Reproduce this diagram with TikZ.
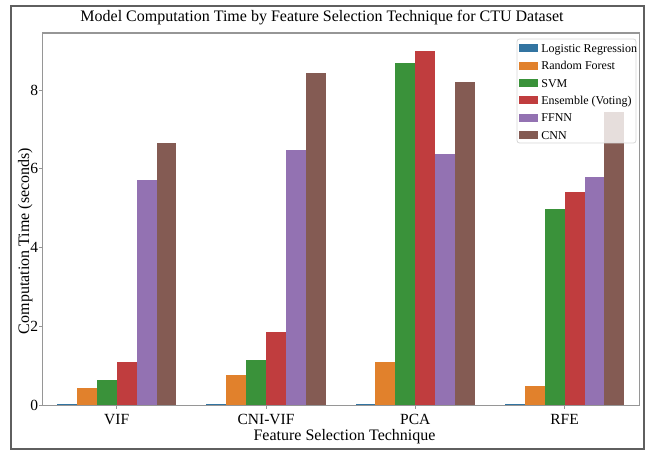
\documentclass[tikz,border=0pt]{standalone}
\usepackage{fontspec}
\setmainfont{Liberation Serif}
\usetikzlibrary{positioning}
\definecolor{CtuBlue}{HTML}{3274A1}
\definecolor{CtuOrange}{HTML}{E1812C}
\definecolor{CtuGreen}{HTML}{3A923A}
\definecolor{CtuRed}{HTML}{C03D3E}
\definecolor{CtuPurple}{HTML}{9372B2}
\definecolor{CtuBrown}{HTML}{845B53}
\definecolor{CtuSpine}{RGB}{150,150,150}
\definecolor{CtuFrame}{RGB}{95,95,95}
\definecolor{CtuLegEdge}{RGB}{215,215,215}
\tikzset{
  ctu/frame/.style={draw=CtuFrame, line width=1.2pt},
  ctu/spine/.style={draw=CtuSpine, line width=1.1pt},
  ctu/tickmark/.style={draw=CtuSpine, line width=0.9pt},
  ctu/lr/.style={fill=CtuBlue},
  ctu/rf/.style={fill=CtuOrange},
  ctu/svm/.style={fill=CtuGreen},
  ctu/ens/.style={fill=CtuRed},
  ctu/ffnn/.style={fill=CtuPurple},
  ctu/cnn/.style={fill=CtuBrown},
  ctu/title/.style={font=\fontsize{16}{19}\selectfont, inner sep=0pt, anchor=base},
  ctu/axislabel/.style={font=\fontsize{16}{19}\selectfont, inner sep=0pt, anchor=base},
  ctu/ticklabel/.style={font=\fontsize{15.5}{18}\selectfont, inner sep=0pt},
  ctu/legbox/.style={draw=CtuLegEdge, line width=0.8pt, rounded corners=2.5pt, fill=white, fill opacity=0.8},
  ctu/patch/.style={rectangle, minimum width=19pt, minimum height=8pt, inner sep=0pt},
  ctu/legtext/.style={font=\fontsize{12}{14}\selectfont, inner sep=0pt}
}
\begin{document}
\begin{tikzpicture}[x=1pt,y=1pt]
  \useasboundingbox (0,0) rectangle (647,450);
  \draw[ctu/frame] (11,1) rectangle (644,444);
  \node[ctu/title] (title) at (322,428) {Model Computation Time by Feature Selection Technique for CTU Dataset};
  \node[ctu/axislabel] (xlabel) at (344.5,10) {Feature Selection Technique};
  \node[ctu/axislabel, rotate=90] (ylabel) at (29,209) {Computation Time (seconds)};

  \begin{scope}[shift={(116.7,44.3)}, x=149.3pt, y=39.46pt]
    % VIF
    \fill[ctu/lr]   (-0.4000,0) rectangle ++(0.1333,0.04);
    \fill[ctu/rf]   (-0.2667,0) rectangle ++(0.1333,0.44);
    \fill[ctu/svm]  (-0.1333,0) rectangle ++(0.1333,0.64);
    \fill[ctu/ens]  ( 0.0000,0) rectangle ++(0.1333,1.11);
    \fill[ctu/ffnn] ( 0.1333,0) rectangle ++(0.1333,5.72);
    \fill[ctu/cnn]  ( 0.2667,0) rectangle ++(0.1333,6.65);
    % CNI-VIF
    \fill[ctu/lr]   (0.6000,0) rectangle ++(0.1333,0.04);
    \fill[ctu/rf]   (0.7333,0) rectangle ++(0.1333,0.78);
    \fill[ctu/svm]  (0.8667,0) rectangle ++(0.1333,1.16);
    \fill[ctu/ens]  (1.0000,0) rectangle ++(0.1333,1.86);
    \fill[ctu/ffnn] (1.1333,0) rectangle ++(0.1333,6.48);
    \fill[ctu/cnn]  (1.2667,0) rectangle ++(0.1333,8.42);
    % PCA
    \fill[ctu/lr]   (1.6000,0) rectangle ++(0.1333,0.04);
    \fill[ctu/rf]   (1.7333,0) rectangle ++(0.1333,1.11);
    \fill[ctu/svm]  (1.8667,0) rectangle ++(0.1333,8.69);
    \fill[ctu/ens]  (2.0000,0) rectangle ++(0.1333,9.00);
    \fill[ctu/ffnn] (2.1333,0) rectangle ++(0.1333,6.37);
    \fill[ctu/cnn]  (2.2667,0) rectangle ++(0.1333,8.20);
    % RFE
    \fill[ctu/lr]   (2.6000,0) rectangle ++(0.1333,0.04);
    \fill[ctu/rf]   (2.7333,0) rectangle ++(0.1333,0.50);
    \fill[ctu/svm]  (2.8667,0) rectangle ++(0.1333,4.98);
    \fill[ctu/ens]  (3.0000,0) rectangle ++(0.1333,5.42);
    \fill[ctu/ffnn] (3.1333,0) rectangle ++(0.1333,5.80);
    \fill[ctu/cnn]  (3.2667,0) rectangle ++(0.1333,7.44);

    \draw[ctu/spine] (-0.5,0) rectangle (3.5,9.445);

    % y ticks
    \draw[ctu/tickmark] (-0.5,0) -- ++(-3.5pt,0) node[ctu/ticklabel, anchor=east] (ytick0) {0};
    \draw[ctu/tickmark] (-0.5,2) -- ++(-3.5pt,0) node[ctu/ticklabel, anchor=east] (ytick2) {2};
    \draw[ctu/tickmark] (-0.5,4) -- ++(-3.5pt,0) node[ctu/ticklabel, anchor=east] (ytick4) {4};
    \draw[ctu/tickmark] (-0.5,6) -- ++(-3.5pt,0) node[ctu/ticklabel, anchor=east] (ytick6) {6};
    \draw[ctu/tickmark] (-0.5,8) -- ++(-3.5pt,0) node[ctu/ticklabel, anchor=east] (ytick8) {8};

    % x ticks
    \draw[ctu/tickmark] (0,0) -- ++(0,-3.5pt);
    \draw[ctu/tickmark] (1,0) -- ++(0,-3.5pt);
    \draw[ctu/tickmark] (2,0) -- ++(0,-3.5pt);
    \draw[ctu/tickmark] (3,0) -- ++(0,-3.5pt);
    \node[ctu/ticklabel, anchor=base] (vif) at (0,-0.489) {VIF};
    \node[ctu/ticklabel, anchor=base] (cnivif) at (1,-0.489) {CNI-VIF};
    \node[ctu/ticklabel, anchor=base] (pca) at (2,-0.489) {PCA};
    \node[ctu/ticklabel, anchor=base] (rfe) at (3,-0.489) {RFE};
  \end{scope}

  % legend
  \draw[ctu/legbox] (517,307) rectangle (636,411);
  \node[ctu/patch, fill=CtuBlue]   (lrpatch)   at (528.5,401.7) {};
  \node[ctu/patch, fill=CtuOrange] (rfpatch)   at (528.5,384.4) {};
  \node[ctu/patch, fill=CtuGreen]  (svmpatch)  at (528.5,367.0) {};
  \node[ctu/patch, fill=CtuRed]    (enspatch)  at (528.5,349.7) {};
  \node[ctu/patch, fill=CtuPurple] (ffnnpatch) at (528.5,332.3) {};
  \node[ctu/patch, fill=CtuBrown]  (cnnpatch)  at (528.5,315.0) {};
  \node[ctu/legtext, right=3pt of lrpatch.south east, anchor=base west]   (lrtext)   {Logistic Regression};
  \node[ctu/legtext, right=3pt of rfpatch.south east, anchor=base west]   (rftext)   {Random Forest};
  \node[ctu/legtext, right=3pt of svmpatch.south east, anchor=base west]  (svmtext)  {SVM};
  \node[ctu/legtext, right=3pt of enspatch.south east, anchor=base west]  (enstext)  {Ensemble (Voting)};
  \node[ctu/legtext, right=3pt of ffnnpatch.south east, anchor=base west] (ffnntext) {FFNN};
  \node[ctu/legtext, right=3pt of cnnpatch.south east, anchor=base west]  (cnntext)  {CNN};
\end{tikzpicture}
\end{document}
